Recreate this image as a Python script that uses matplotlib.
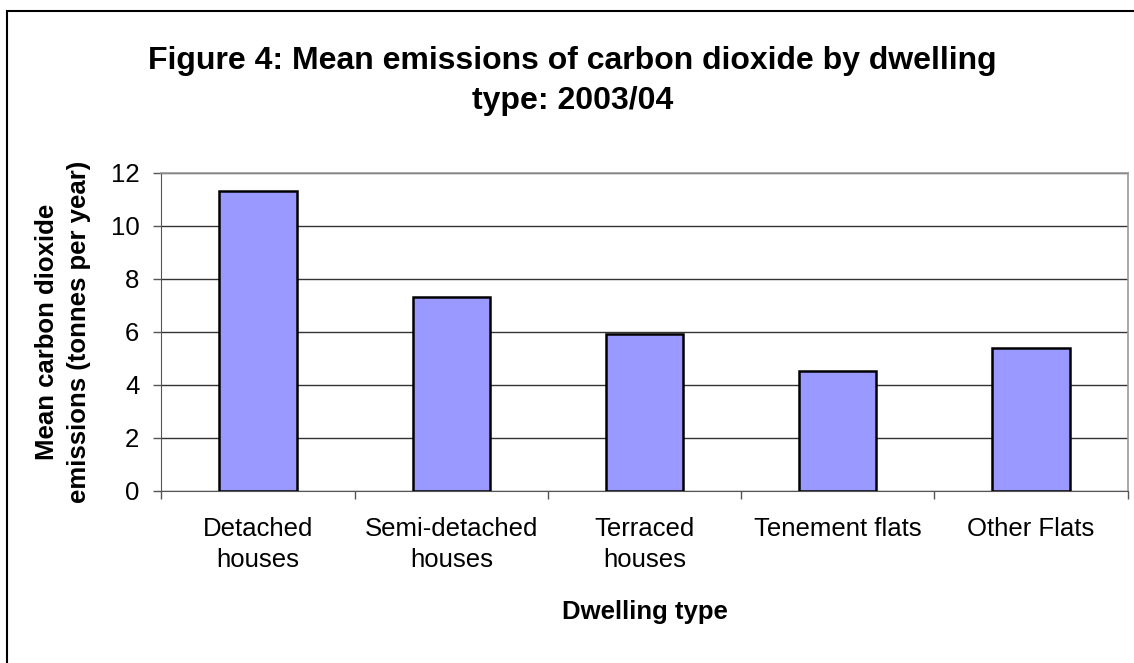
import matplotlib.pyplot as plt
import numpy as np
from matplotlib.patches import Rectangle

dwelling_types = ['Detached\nhouses', 'Semi-detached\nhouses', 'Terraced\nhouses',
                  'Tenement flats', 'Other Flats']
mean_emissions = [11.3, 7.3, 5.9, 4.5, 5.4]
y_ticks = [0, 2, 4, 6, 8, 10, 12]

plt.rcParams['font.family'] = ['Liberation Sans', 'DejaVu Sans']

fig = plt.figure(figsize=(11.34, 6.63), dpi=100)
ax = fig.add_axes([0.1424, 0.2599, 0.8519, 0.4796])

x = np.arange(len(dwelling_types))
ax.bar(x, mean_emissions, width=0.4, color='#9999FF', edgecolor='black',
       linewidth=1.8, zorder=3)

ax.set_xlim(-0.5, len(dwelling_types) - 0.5)
ax.set_ylim(0, 12)
ax.set_yticks(y_ticks)
ax.set_yticklabels([str(v) for v in y_ticks], fontsize=18.5)
ax.yaxis.grid(True, color='#333333', linewidth=1.0, zorder=0)

# category labels sit between boundary ticks, like a spreadsheet chart
ax.set_xticks(x)
ax.set_xticklabels(dwelling_types, fontsize=18.5, linespacing=1.35)
ax.tick_params(axis='x', length=0, pad=19)
ax.set_xticks(np.arange(len(dwelling_types) + 1) - 0.5, minor=True)
ax.tick_params(axis='x', which='minor', length=6, color='#555555', width=1)
ax.tick_params(axis='y', length=6, color='#555555', width=1, pad=10)

for side in ['top', 'right']:
    ax.spines[side].set_color('#999999')
    ax.spines[side].set_linewidth(1.2)
ax.spines['left'].set_color('#555555')
ax.spines['bottom'].set_color('#555555')

ax.set_xlabel('Dwelling type', fontsize=18.5, fontweight='bold', labelpad=20)
ax.set_ylabel('Mean carbon dioxide\nemissions (tonnes per year)', fontsize=18.5,
              fontweight='bold', labelpad=14, linespacing=1.4)

fig.text(0.505, 0.878, 'Figure 4: Mean emissions of carbon dioxide by dwelling\ntype: 2003/04',
         ha='center', va='center', fontsize=23, fontweight='bold', linespacing=1.45)

# chart area border
fig.patches.append(Rectangle((7 / 1134, -0.05), 1.2, (663 - 10.5) / 663 + 0.05,
                             transform=fig.transFigure, fill=False,
                             edgecolor='black', linewidth=1.5))

fig.savefig('out.png', dpi=100)
